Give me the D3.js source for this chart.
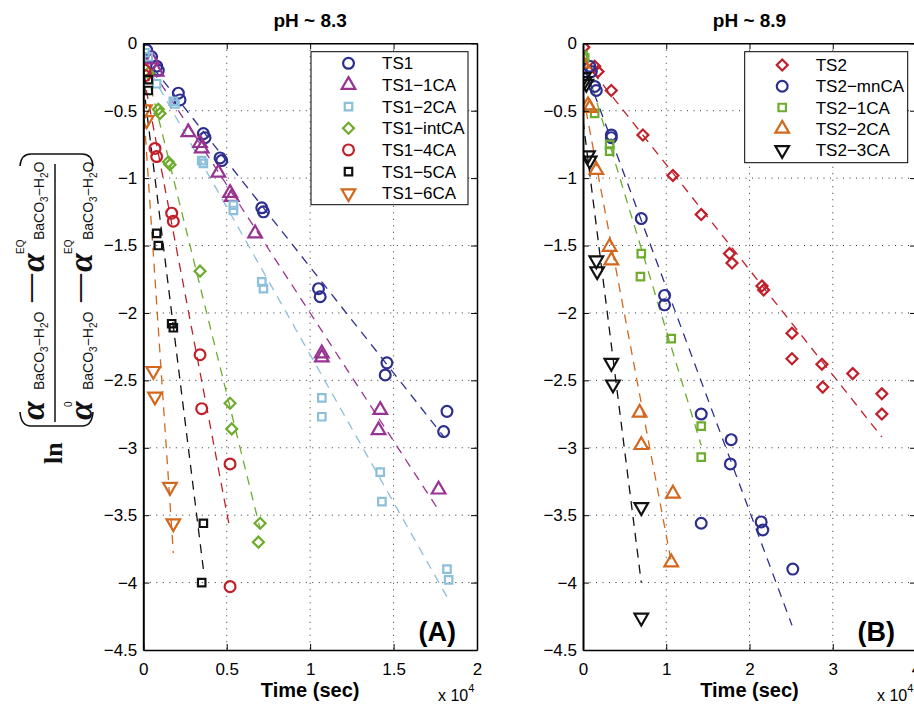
<!DOCTYPE html>
<meta charset="utf-8">
<script src="https://cdn.jsdelivr.net/npm/d3@7"></script>
<style>
  body { margin: 0; background: #fff; }
</style>
<div id="chart"></div>
<script>

// ---- data: [time (s), ln(...)] ----
// panel A, pH ~ 8.3
var ts1 = [[200,-0.05],[500,-0.10],[800,-0.17],[900,-0.20],[2100,-0.37],[2200,-0.42],[3600,-0.67],[3700,-0.70],
           [4600,-0.85],[4700,-0.87],[7100,-1.22],[7200,-1.25],[10500,-1.82],[10600,-1.88],[14600,-2.37],
           [14500,-2.46],[18200,-2.73],[18000,-2.88]];
var ts1_1ca = [[500,-0.12],[800,-0.21],[2700,-0.66],[3400,-0.74],[3500,-0.78],[4500,-0.96],[5200,-1.11],
               [5300,-1.14],[6700,-1.41],[10700,-2.30],[10700,-2.33],[14200,-2.72],[14100,-2.87],[17700,-3.31]];
var ts1_2ca = [[100,-0.07],[300,-0.10],[800,-0.30],[1800,-0.43],[1900,-0.45],[3500,-0.87],[3600,-0.89],
               [5400,-1.20],[5400,-1.24],[7100,-1.77],[7200,-1.82],[10700,-2.63],[10700,-2.77],[14200,-3.18],
               [14300,-3.40],[18200,-3.90],[18300,-3.98]];
var ts1_intca = [[300,-0.22],[900,-0.49],[1000,-0.52],[1500,-0.88],[1600,-0.90],[3400,-1.69],[5200,-2.67],
                 [5300,-2.86],[7000,-3.56],[6900,-3.70]];
var ts1_4ca = [[100,-0.20],[100,-0.24],[700,-0.78],[800,-0.84],[1700,-1.26],[1800,-1.32],[3400,-2.31],
               [3500,-2.71],[5200,-3.12],[5200,-4.03]];
var ts1_5ca = [[300,-0.27],[300,-0.35],[800,-1.41],[900,-1.50],[1700,-2.08],[1800,-2.11],[3600,-3.56],[3500,-4.00]];
var ts1_6ca = [[100,-0.49],[200,-0.57],[600,-2.43],[700,-2.62],[1600,-3.29],[1800,-3.56]];

// panel B, pH ~ 8.9
var ts2 = [[100,-0.03],[1400,-0.17],[1800,-0.21],[3400,-0.35],[7200,-0.68],[10800,-0.98],[14200,-1.27],
           [17600,-1.56],[17900,-1.63],[21500,-1.80],[21700,-1.83],[25100,-2.15],[25100,-2.34],[28700,-2.38],
           [28800,-2.55],[32400,-2.45],[35900,-2.60],[35900,-2.75]];
var ts2_mnca = [[800,-0.17],[1000,-0.21],[1400,-0.32],[1600,-0.35],[3400,-0.68],[3400,-0.70],[7000,-1.30],
                [9800,-1.87],[9800,-1.94],[14200,-2.75],[17800,-2.94],[17700,-3.12],[14200,-3.56],
                [21400,-3.55],[21600,-3.61],[25200,-3.90]];
var ts2_1ca = [[0,-0.09],[200,-0.11],[1400,-0.52],[3200,-0.75],[3200,-0.80],[7000,-1.56],[6900,-1.73],
               [10600,-2.19],[14200,-2.84],[14200,-3.07]];
var ts2_2ca = [[0,-0.15],[600,-0.46],[800,-0.48],[1600,-0.94],[3200,-1.51],[3400,-1.61],[6800,-2.74],
               [7000,-2.98],[10800,-3.34],[10600,-3.85]];
var ts2_3ca = [[100,-0.25],[200,-0.28],[400,-0.30],[600,-0.83],[800,-0.87],[1600,-1.61],[1700,-1.69],
               [3400,-2.37],[3600,-2.53],[7000,-3.44],[7000,-4.26]];

// series info
var namesA = ["TS1", "TS1\u22121CA", "TS1\u22122CA", "TS1\u2212intCA", "TS1\u22124CA", "TS1\u22125CA", "TS1\u22126CA"];
var namesB = ["TS2", "TS2\u2212mnCA", "TS2\u22121CA", "TS2\u22122CA", "TS2\u22123CA"];

// linear fits: slope per 10^4 s, intercept, end time (s)
var fitSlopeA = [-1.57, -1.90, -2.19, -5.0, -6.5, -10.0, -18.5];
var fitInterceptA = [-0.09, -0.10, -0.12, -0.10, -0.23, -0.30, -0.45];
var fitEndA = [18000, 17700, 18200, 7000, 5200, 3600, 1800];
var fitSlopeB = [-0.78, -1.66, -2.03, -3.27, -4.9];
var fitInterceptB = [-0.12, -0.15, -0.10, -0.38, -0.57];
var fitEndB = [35900, 25100, 14200, 10700, 7000];

var yTicks = [0, -0.5, -1, -1.5, -2, -2.5, -3, -3.5, -4, -4.5];
var xTicksA = [0, 5000, 10000, 15000, 20000];
var xTicksB = [0, 10000, 20000, 30000, 40000];

// ---- styles ----
var navy = "#2d2f8e", purple = "#993391", lblue = "#8cbfda", green = "#6eac2e",
    red = "#c11f2a", black = "#111111", orange = "#d2671d";

var panels = [
  { id: "A", title: "pH ~ 8.3", tag: "(A)", left: 143.3, right: 477, xTicks: xTicksA,
    series: [ts1, ts1_1ca, ts1_2ca, ts1_intca, ts1_4ca, ts1_5ca, ts1_6ca], names: namesA,
    colors: [navy, purple, lblue, green, red, black, orange],
    symbols: ["circle", "triangle", "square", "diamond", "circle", "square", "triangleDown"],
    slope: fitSlopeA, icpt: fitInterceptA, end: fitEndA,
    legend: { x: 311, y: 51.7, w: 157, h: 153, first: 11.6, step: 21.65 } },
  { id: "B", title: "pH ~ 8.9", tag: "(B)", left: 583, right: 916, xTicks: xTicksB,
    series: [ts2, ts2_mnca, ts2_1ca, ts2_2ca, ts2_3ca], names: namesB,
    colors: [red, navy, green, orange, black],
    symbols: ["diamond", "circle", "square", "triangle", "triangleDown"],
    slope: fitSlopeB, icpt: fitInterceptB, end: fitEndB,
    legend: { x: 744.7, y: 51.7, w: 163, h: 111, first: 13.3, step: 21.25 } }
];

var W = 914, H = 704;
var font = '"Liberation Sans", Arial, Helvetica, sans-serif';
var serif = '"Liberation Serif", "Times New Roman", serif';

var svg = d3.select("#chart").append("svg")
    .attr("width", W).attr("height", H)
    .style("font-family", font);

var y = d3.scaleLinear().domain([-4.5, 0]).range([650, 43.3]);

var symSize = { circle: 92, triangle: 80, triangleDown: 80, square: 56, diamond: 60 };
function symPath(s) {
  var t = (s === "circle") ? d3.symbolCircle : (s === "triangle" || s === "triangleDown") ? d3.symbolTriangle : d3.symbolSquare;
  return d3.symbol().type(t).size(symSize[s])();
}
function symRot(s) {
  return s === "triangleDown" ? " rotate(180)" : s === "diamond" ? " rotate(45)" : "";
}

panels.forEach(function(p) {
  var x = d3.scaleLinear().domain([p.xTicks[0], p.xTicks[p.xTicks.length - 1]]).range([p.left, p.right]);
  var g = svg.append("g");

  svg.append("clipPath").attr("id", "clip" + p.id).append("rect")
    .attr("x", p.left).attr("y", y(0))
    .attr("width", p.right - p.left).attr("height", y(-4.5) - y(0));

  // dotted grid
  g.append("g").selectAll("line").data(p.xTicks.slice(1, -1)).join("line")
    .attr("x1", d => x(d)).attr("x2", d => x(d)).attr("y1", y(0)).attr("y2", y(-4.5))
    .attr("stroke", "#333").attr("stroke-width", 1).attr("stroke-dasharray", "1,5.5");
  g.append("g").selectAll("line").data(yTicks.slice(1, -1)).join("line")
    .attr("x1", p.left).attr("x2", p.right).attr("y1", d => y(d)).attr("y2", d => y(d))
    .attr("stroke", "#333").attr("stroke-width", 1).attr("stroke-dasharray", "1,5.5");

  var plot = g.append("g").attr("clip-path", "url(#clip" + p.id + ")");

  // fit lines
  p.series.forEach(function(s, i) {
    plot.append("line")
      .attr("x1", x(0)).attr("y1", y(p.icpt[i]))
      .attr("x2", x(p.end[i])).attr("y2", y(p.icpt[i] + p.slope[i] * p.end[i] / 1e4))
      .attr("stroke", p.colors[i]).attr("stroke-width", 1.3)
      .attr("stroke-dasharray", "9,7");
  });

  // markers
  p.series.forEach(function(s, i) {
    plot.append("g").selectAll("path").data(s).join("path")
      .attr("d", symPath(p.symbols[i]))
      .attr("transform", d => "translate(" + x(d[0]) + "," + y(d[1]) + ")" + symRot(p.symbols[i]))
      .attr("fill", "none").attr("stroke", p.colors[i]).attr("stroke-width", 2.2);
  });

  // axes
  var ax = [
    { a: d3.axisBottom(x).tickValues(p.xTicks).tickSize(-6).tickPadding(13).tickFormat(d => d / 1e4), t: "translate(0," + y(-4.5) + ")" },
    { a: d3.axisTop(x).tickValues(p.xTicks).tickSize(-6).tickFormat(""), t: "translate(0," + y(0) + ")" },
    { a: d3.axisLeft(y).tickValues(yTicks).tickSize(-6).tickPadding(6).tickFormat(d3.format(".1~f")), t: "translate(" + p.left + ",0)" },
    { a: d3.axisRight(y).tickValues(yTicks).tickSize(-6).tickFormat(""), t: "translate(" + p.right + ",0)" }
  ];
  ax.forEach(function(o, k) {
    var gg = g.append("g").attr("transform", o.t).call(o.a.tickSizeOuter(0));
    gg.select(".domain").attr("stroke", "#000").attr("stroke-width", k === 2 ? 2 : 1.5);
    gg.selectAll(".tick line").attr("stroke", "#000");
    gg.selectAll("text").attr("font-family", font).attr("font-size", 17).attr("fill", "#000");
  });

  // legend
  var L = p.legend;
  var lg = g.append("g").attr("transform", "translate(" + L.x + "," + L.y + ")");
  lg.append("rect").attr("width", L.w).attr("height", L.h)
    .attr("fill", "#fff").attr("stroke", "#000").attr("stroke-width", 1);
  var rows = lg.selectAll("g.row").data(p.names).join("g")
    .attr("transform", (d, i) => "translate(0," + (L.first + i * L.step) + ")");
  rows.append("path")
    .attr("d", (d, i) => symPath(p.symbols[i]))
    .attr("transform", (d, i) => "translate(37.5,0)" + symRot(p.symbols[i]))
    .attr("fill", "none").attr("stroke", (d, i) => p.colors[i]).attr("stroke-width", 2.2);
  rows.append("text").attr("x", 71).attr("dy", "0.36em")
    .attr("font-size", 17).text(d => d);

  // titles and labels
  var cx = (p.left + p.right) / 2;
  svg.append("text").attr("x", cx).attr("y", 27).attr("text-anchor", "middle")
    .attr("font-size", 19).attr("font-weight", "bold").text(p.title);
  svg.append("text").attr("x", cx).attr("y", 697).attr("text-anchor", "middle")
    .attr("font-size", 20).attr("font-weight", "bold").text("Time (sec)");
  var m = svg.append("text").attr("x", p.right - 39).attr("y", 701).attr("font-size", 16);
  m.append("tspan").text("x 10");
  m.append("tspan").attr("dy", -9).attr("font-size", 11).text("4");
  svg.append("text").attr("x", p.right - 21).attr("y", 641).attr("text-anchor", "end")
    .attr("font-size", 27).attr("font-weight", "bold").text(p.tag);
});

// ---- y-axis label (rotated formula) ----
var yl = svg.append("g").attr("fill", "#111");
// brackets
yl.append("path").attr("d", "M20,166 Q21,154 31,154 L82,154 Q92,154 93,166")
  .attr("fill", "none").attr("stroke", "#111").attr("stroke-width", 1.6);
yl.append("path").attr("d", "M20,412 Q21,426 31,426 L82,426 Q92,426 93,412")
  .attr("fill", "none").attr("stroke", "#111").attr("stroke-width", 1.6);
// fraction bar
yl.append("line").attr("x1", 55).attr("x2", 55).attr("y1", 164).attr("y2", 422)
  .attr("stroke", "#111").attr("stroke-width", 1.5);

var rg = yl.append("g").attr("transform", "translate(0,440) rotate(-90)");
function rt(u, v, txt, size, fam, bold, italic) {
  return rg.append("text").attr("x", u).attr("y", v).attr("font-size", size)
    .attr("font-family", fam).attr("font-weight", bold ? "bold" : "normal")
    .attr("font-style", italic ? "italic" : "normal").text(txt);
}
function species(u, v) {
  var t = rg.append("text").attr("x", u).attr("y", v).attr("font-size", 14).attr("font-family", font);
  t.append("tspan").text("BaCO");
  t.append("tspan").attr("dy", 4).attr("font-size", 10).text("3");
  t.append("tspan").attr("dy", -4).text("\u2212H");
  t.append("tspan").attr("dy", 4).attr("font-size", 10).text("2");
  t.append("tspan").attr("dy", -4).text("O");
}
rt(-24, 62, "ln", 26, serif, true);
// numerator
rt(20, 44, "\u03b1", 34, serif, true, true);
species(50, 44);
rt(138, 38, "\u2014", 28, serif, true);
rt(168, 44, "\u03b1", 34, serif, true, true);
rt(186, 24, "EQ", 10, font, false);
species(200, 44);
// denominator
rt(20, 92, "\u03b1", 34, serif, true, true);
rt(33, 72, "0", 10, font, false);
species(50, 93);
rt(138, 87, "\u2014", 28, serif, true);
rt(168, 92, "\u03b1", 34, serif, true, true);
rt(186, 72, "EQ", 10, font, false);
species(200, 93);

</script>
